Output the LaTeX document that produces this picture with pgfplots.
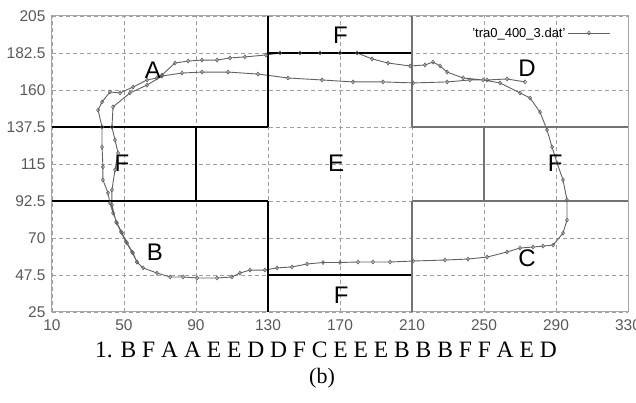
\documentclass[border=0pt]{standalone}
\usepackage{fontspec}
\setmainfont{Liberation Serif}
\setsansfont{Liberation Sans}
\usepackage{pgfplots}
\pgfplotsset{compat=1.18}
\begin{document}
\begin{tikzpicture}
\begin{axis}[
  at={(0pt,0pt)}, anchor=south west,
  scale only axis, width=576pt, height=296pt,
  xmin=10, xmax=330, ymin=25, ymax=205,
  xtick={10,50,90,130,170,210,250,290,330},
  xticklabels={10,50,90,130,170,210,250,290,330},
  ytick={25,47.5,70,92.5,115,137.5,160,182.5,205},
  yticklabels={25,47.5,70,92.5,115,137.5,160,182.5,205},
  major tick length=0pt,
  grid=major,
  grid style={gray!75, line width=0.8pt, dash pattern=on 4pt off 3pt},
  axis line style={gray!70, line width=1pt},
  tick label style={font=\fontsize{15.5}{15.5}\sffamily, text=black!65},
  /pgf/number format/assume math mode=true,
  xticklabel style={yshift=-4pt},
  yticklabel style={xshift=-3pt},
  legend style={draw=none, fill=none, font=\fontsize{13}{13}\sffamily,
    at={(0.975,0.975)}, anchor=north east, legend plot pos=right},
  legend image code/.code={\draw[mark repeat=2,mark phase=2,#1] plot coordinates {(0pt,0pt) (21pt,0pt) (42pt,0pt)};},
]
% trajectory
\addplot[color=black!62, line width=0.9pt, mark=diamond, mark size=2pt,
  mark options={draw=black!62, fill=none, line width=0.6pt}] coordinates {
(57.2,55.4) (55.0,60.9) (51.7,67.0) (48.9,73.1) (46.1,79.1) (43.9,85.2)
(42.2,91.3) (41.1,97.4) (38.3,105.3) (38.3,113.2) (37.8,125.3) (37.8,137.5)
(35.6,147.8) (37.8,152.7) (42.2,158.8) (47.8,158.2) (55.0,161.8) (62.8,166.1)
(68.3,167.3) (71.1,169.1) (78.3,176.4) (85.6,177.6) (93.3,178.2) (101.7,178.2)
(108.9,179.5) (117.2,180.1) (128.9,181.3) (136.7,182.5) (147.8,182.5) (158.9,182.5)
(170.0,182.5) (179.5,182.5) (187.8,178.9) (196.7,176.4) (208.9,174.6) (217.2,175.2)
(221.7,177.0) (225.6,174.6) (229.5,170.9) (238.4,167.3) (249.5,166.1) (258.9,164.3)
(270.0,158.2) (275.6,155.1) (281.1,146.6) (285.0,135.7) (287.8,125.3) (290.6,115.6)
(293.9,105.3) (296.1,93.1) (296.1,80.9) (293.9,73.0) (288.4,65.7) (282.8,65.1)
(277.2,64.5) (270.0,63.9) (262.8,61.5) (251.7,58.4) (241.1,57.2) (228.3,56.6)
(210.6,56.0) (197.8,55.4) (188.3,55.4) (180.0,55.4) (170.0,55.1) (160.6,55.1)
(151.7,54.2) (143.3,52.4) (135.0,51.8) (128.3,50.5) (120.0,50.5) (114.4,48.7)
(110.0,46.3) (101.7,45.7) (90.6,45.7) (82.8,46.3) (75.6,46.3) (68.3,48.7)
(60.6,51.8) (57.2,55.4) (54.4,61.5) (51.1,67.6) (48.3,73.7) (45.6,79.7)
(43.3,90.1) (43.3,99.2) (45.0,111.4) (46.7,121.7) (45.0,129.6) (43.3,137.5)
(43.9,149.7) (53.3,158.2) (62.8,163.0) (71.1,168.5) (82.2,170.3) (93.3,170.9)
(107.8,170.9) (124.4,169.7) (141.1,167.3) (160.0,166.1) (177.2,164.9) (193.9,164.9)
(210.6,164.3) (229.5,164.9) (242.2,166.1) (251.7,166.1) (262.8,166.7) (272.8,164.9)
};
\addlegendentry{'tra0\_400\_3.dat'}
% region boundaries (black)
\addplot[forget plot, black, line width=1.5pt] coordinates {(130,205) (130,137.5)};
\addplot[forget plot, black, line width=1.5pt] coordinates {(10,137.5) (130,137.5)};
\addplot[forget plot, black, line width=1.5pt] coordinates {(90,137.5) (90,92.5)};
\addplot[forget plot, black, line width=1.5pt] coordinates {(10,92.5) (130,92.5)};
\addplot[forget plot, black, line width=1.5pt] coordinates {(130,92.5) (130,25)};
\addplot[forget plot, black, line width=1.5pt] coordinates {(130,182.5) (210,182.5)};
\addplot[forget plot, black, line width=1.5pt] coordinates {(130,47.5) (210,47.5)};
% region boundaries (gray)
\addplot[forget plot, black!55, line width=2.5pt] coordinates {(210,205) (210,137.5)};
\addplot[forget plot, black!55, line width=2.5pt] coordinates {(210,137.5) (330,137.5)};
\addplot[forget plot, black!55, line width=2.5pt] coordinates {(250,137.5) (250,92.5)};
\addplot[forget plot, black!55, line width=2.5pt] coordinates {(210,92.5) (330,92.5)};
\addplot[forget plot, black!55, line width=2.5pt] coordinates {(210,92.5) (210,25)};
% region letters
\begin{scope}[every node/.style={font=\fontsize{24}{24}\sffamily, text=black}]
\node at (axis cs:66,172) {A};
\node at (axis cs:170.3,193.2) {F};
\node at (axis cs:273.9,173.4) {D};
\node at (axis cs:48.9,115.6) {F};
\node at (axis cs:167.8,115.6) {E};
\node at (axis cs:289.5,115.6) {F};
\node at (axis cs:67.2,61.5) {B};
\node at (axis cs:273.9,57.8) {C};
\node at (axis cs:170.6,35.3) {F};
\end{scope}
\end{axis}
\node[font=\fontsize{23.5}{23.5}\selectfont] at (274pt,-38pt) {1. B F A A E E D D F C E E E B B B F F A E D};
\node[font=\fontsize{22}{22}\selectfont] at (270pt,-66pt) {(b)};
\pgfresetboundingbox
\path[use as bounding box] (-52pt,-91pt) rectangle (584pt,312pt);
\end{tikzpicture}
\end{document}
